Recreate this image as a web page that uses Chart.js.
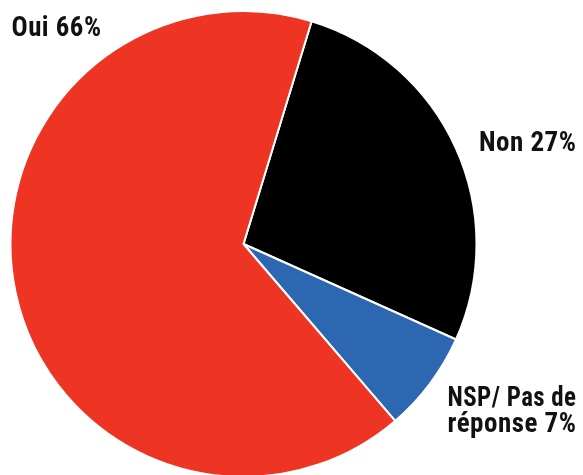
<!DOCTYPE html>
<html>
<head>
<meta charset="utf-8">
<script src="https://cdn.jsdelivr.net/npm/chart.js@4.4.1/dist/chart.umd.min.js"></script>
<style>
  html, body { margin: 0; padding: 0; background: #fff; overflow: hidden; }
  #wrap { width: 583px; height: 475px; overflow: hidden; }
</style>
</head>
<body>
<div id="wrap"><canvas id="pie" width="583" height="490"></canvas></div>
<script>
// --- Data ---
const labels = ["Non", "NSP/ Pas de réponse", "Oui"];
const values = [27, 7, 66];
const colors = ["#000000", "#2E67B1", "#EE3524"];

// label text lines per slice (drawn outside the pie)
const labelLines = [["Non 27%"], ["NSP/ Pas de", "réponse 7%"], ["Oui 66%"]];

const FONT = "bold 27px 'Roboto Condensed', 'Roboto', sans-serif";

// --- Outside labels ---
const outsideLabels = {
  id: "outsideLabels",
  afterDraw(chart) {
    const c = chart.ctx;
    const arc = chart.getDatasetMeta(0).data[0];
    const cx = arc.x, cy = arc.y, r = arc.outerRadius;
    // anchors relative to the pie center / radius, with max widths
    const spots = [
      { x: cx + r + 100, y: cy - 93, align: "right", w: 98 },
      { x: cx + r - 29, y: cy + 162, align: "left", w: 129 },
      { x: cx - r + 1, y: cy - 208, align: "left", w: 90 }
    ];
    c.save();
    c.font = FONT;
    c.letterSpacing = "0.5px";
    c.fillStyle = "#111";
    c.textBaseline = "alphabetic";
    labelLines.forEach((lines, i) => {
      const s = spots[i];
      c.textAlign = s.align;
      lines.forEach((t, j) => c.fillText(t, s.x, s.y + j * 26, s.w));
    });
    c.restore();
  }
};

new Chart(document.getElementById("pie"), {
  type: "pie",
  data: {
    labels: labels,
    datasets: [{
      data: values,
      backgroundColor: colors,
      borderColor: "#ffffff",
      borderWidth: 2
    }]
  },
  options: {
    responsive: false,
    animation: false,
    rotation: 17,
    layout: { padding: { left: 9, right: 105, top: 10, bottom: 12 } },
    plugins: {
      legend: { display: false },
      tooltip: { enabled: false }
    }
  },
  plugins: [outsideLabels]
});
</script>
</body>
</html>
